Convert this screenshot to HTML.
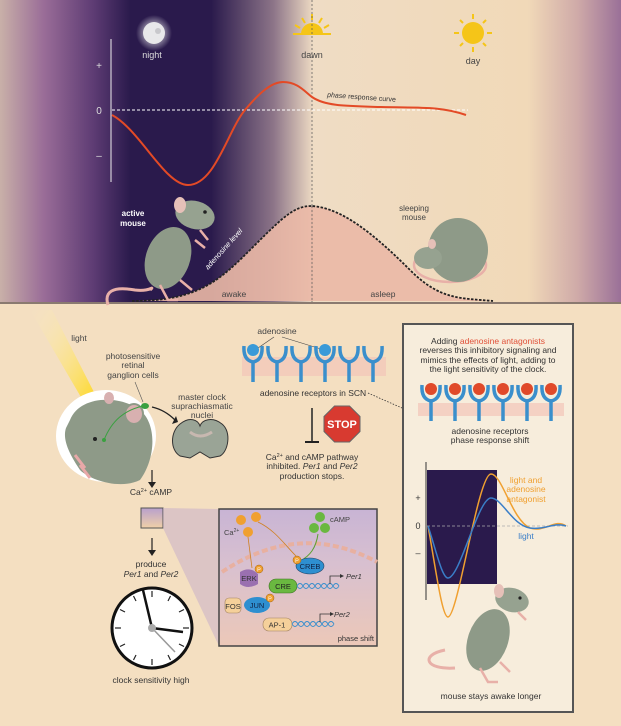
<!DOCTYPE html>
<html><head><meta charset="utf-8"><style>
body{margin:0;padding:0;background:#f4dfc1}
svg{display:block}
text{font-family:"Liberation Sans",sans-serif}
</style></head><body>
<svg width="621" height="726" viewBox="0 0 621 726" xmlns="http://www.w3.org/2000/svg">
<defs>
<linearGradient id="sky" x1="0" x2="1" y1="0" y2="0">
<stop offset="0" stop-color="#c9b0a8"/>
<stop offset="0.07" stop-color="#9a6d98"/>
<stop offset="0.15" stop-color="#5e3c74"/>
<stop offset="0.21" stop-color="#2a1a4c"/>
<stop offset="0.34" stop-color="#2a1a4c"/>
<stop offset="0.44" stop-color="#8c7488"/>
<stop offset="0.505" stop-color="#efdcc4"/>
<stop offset="0.85" stop-color="#f1d9b8"/>
<stop offset="0.93" stop-color="#cfaaa8"/>
<stop offset="1" stop-color="#9a7098"/>
</linearGradient>
<linearGradient id="inset" x1="0" x2="0" y1="0" y2="1">
<stop offset="0" stop-color="#c8b4d4"/><stop offset="0.4" stop-color="#d8c0d0"/><stop offset="1" stop-color="#ecc8b8"/>
</linearGradient>
<linearGradient id="beam" x1="0" x2="1" y1="0" y2="1">
<stop offset="0" stop-color="#fff6c8" stop-opacity="0"/><stop offset="1" stop-color="#ffd400"/>
</linearGradient>
<linearGradient id="sq" x1="0" x2="0" y1="0" y2="1"><stop offset="0" stop-color="#b8a0cc"/><stop offset="1" stop-color="#f0d0a8"/></linearGradient>
<radialGradient id="glow"><stop offset="0.5" stop-color="#fff" stop-opacity="0.5"/><stop offset="1" stop-color="#fff" stop-opacity="0"/></radialGradient>
<g id="rec"><path d="M-9,-12 Q-10,2 0,4 Q10,2 9,-12" fill="none" stroke="#3a8fcc" stroke-width="3.5"/><line x1="0" y1="4" x2="0" y2="24" stroke="#3a8fcc" stroke-width="3.5"/></g>
</defs>
<!-- top background -->
<rect x="0" y="0" width="621" height="302" fill="url(#sky)"/>
<rect x="0" y="302" width="621" height="2" fill="#8a7a70"/>
<rect x="0" y="304" width="621" height="422" fill="#f4dfc1"/>
<!-- moon & suns -->
<circle cx="154" cy="33" r="18" fill="url(#glow)"/>
<circle cx="154" cy="33" r="11" fill="#e8e8ea"/>
<circle cx="158" cy="31" r="3" fill="#c8c8cc"/>
<text x="152" y="58" font-size="9" fill="#ddd" text-anchor="middle">night</text>
<g stroke="#f5c518" stroke-width="2">
<line x1="312" y1="14" x2="312" y2="20"/><line x1="302" y1="18" x2="305" y2="23"/><line x1="322" y1="18" x2="319" y2="23"/><line x1="295" y1="25" x2="300" y2="28"/><line x1="329" y1="25" x2="324" y2="28"/><line x1="293" y1="34" x2="331" y2="34"/>
</g>
<path d="M301,34 A11,11 0 0 1 323,34 Z" fill="#f5c518"/>
<text x="312" y="58" font-size="9" fill="#444" text-anchor="middle">dawn</text>
<g stroke="#f5c518" stroke-width="2">
<line x1="473" y1="14" x2="473" y2="19"/><line x1="473" y1="47" x2="473" y2="52"/><line x1="454" y1="33" x2="459" y2="33"/><line x1="487" y1="33" x2="492" y2="33"/>
<line x1="460" y1="20" x2="463" y2="23"/><line x1="486" y1="20" x2="483" y2="23"/><line x1="460" y1="46" x2="463" y2="43"/><line x1="486" y1="46" x2="483" y2="43"/>
</g>
<circle cx="473" cy="33" r="11" fill="#f5c518"/>
<text x="473" y="64" font-size="9" fill="#444" text-anchor="middle">day</text>
<!-- axis -->
<line x1="111" y1="39" x2="111" y2="182" stroke="#eee" stroke-width="1"/>
<text x="99" y="69" font-size="10" fill="#ddd" text-anchor="middle">+</text>
<text x="99" y="114" font-size="10" fill="#ddd" text-anchor="middle">0</text>
<text x="99" y="159" font-size="10" fill="#ddd" text-anchor="middle">–</text>
<line x1="112" y1="110" x2="468" y2="110" stroke="#fff" stroke-width="1" stroke-dasharray="3,2"/>
<line x1="312" y1="0" x2="312" y2="302" stroke="#555" stroke-width="0.7" stroke-dasharray="2,2"/>
<!-- adenosine curve -->
<path d="M132,301 C200,301 220,280 255,245 C285,215 295,206 312,206 C340,208 370,230 410,270 C440,300 460,298 493,301 Z" fill="#eab8a6" opacity="0.9"/>
<path d="M132,301 C200,301 220,280 255,245 C285,215 295,206 312,206 C340,208 370,230 410,270 C440,300 460,298 493,301" fill="none" stroke="#222" stroke-width="1.8" stroke-dasharray="2.5,1.5"/>
<line x1="312" y1="206" x2="312" y2="302" stroke="#555" stroke-width="0.7" stroke-dasharray="2,2"/>
<text x="234" y="297" font-size="8.5" fill="#444" text-anchor="middle">awake</text>
<text x="383" y="297" font-size="8.5" fill="#444" text-anchor="middle">asleep</text>
<text x="0" y="0" font-size="7.5" fill="#fff" font-style="italic" transform="translate(208,270) rotate(-48)">adenosine level</text>
<!-- red curve -->
<path d="M112,115 C140,130 165,185 188,185 C215,185 228,130 245,110 C260,92 272,82 283,82 C298,82 305,92 312,97 C325,106 345,106 380,107 C420,108 440,106 466,115" fill="none" stroke="#e34a26" stroke-width="2"/>
<text x="0" y="0" font-size="7" fill="#333" transform="translate(327,97) rotate(4)"><tspan font-style="italic">phase</tspan> response curve</text>
<!-- active mouse -->
<text x="133" y="216" font-size="8" font-weight="bold" fill="#fff" text-anchor="middle">active</text>
<text x="133" y="226" font-size="8" font-weight="bold" fill="#fff" text-anchor="middle">mouse</text>
<path d="M108,305 C104,292 112,286 135,290 C150,292 155,285 150,290" fill="none" stroke="#e8b0a8" stroke-width="3"/>
<g transform="translate(0,0)">
<ellipse cx="168" cy="258" rx="22" ry="32" fill="#8e9a88" transform="rotate(20 168 258)"/>
<ellipse cx="195" cy="215" rx="20" ry="14" fill="#96a290" transform="rotate(15 195 215)"/>
<ellipse cx="180" cy="205" rx="6" ry="8" fill="#e6c0b8"/>
<circle cx="205" cy="212" r="1.8" fill="#222"/>
<path d="M160,285 L168,300 L178,300 M180,280 L192,290" stroke="#e8b0a8" stroke-width="2.5" fill="none"/>
<path d="M200,230 L208,240 M195,240 L205,248" stroke="#e8b0a8" stroke-width="2.5"/>
</g>
<!-- sleeping mouse -->
<text x="414" y="211" font-size="8" fill="#444" text-anchor="middle">sleeping</text>
<text x="414" y="220" font-size="8" fill="#444" text-anchor="middle">mouse</text>
<ellipse cx="450" cy="265" rx="36" ry="17" fill="none" stroke="#e8b0a8" stroke-width="2.5"/>
<ellipse cx="458" cy="250" rx="30" ry="32" fill="#8e9a88"/>
<ellipse cx="428" cy="258" rx="14" ry="11" fill="#96a290"/>
<ellipse cx="432" cy="244" rx="4" ry="5" fill="#e6c0b8"/>
<!-- ===== bottom left ===== -->
<polygon points="30,310 52,310 100,404 88,415 85,404" fill="url(#beam)"/>
<polygon points="80,398 100,392 94,418" fill="#ffd400"/>
<text x="79" y="341" font-size="8.5" fill="#444" text-anchor="middle">light</text>
<text x="133" y="359" font-size="8.5" fill="#444" text-anchor="middle">photosensitive</text>
<text x="133" y="368" font-size="8.5" fill="#444" text-anchor="middle">retinal</text>
<text x="133" y="378" font-size="8.5" fill="#444" text-anchor="middle">ganglion cells</text>
<line x1="135" y1="382" x2="143" y2="402" stroke="#555" stroke-width="0.6"/>
<ellipse cx="106" cy="436" rx="50" ry="46" fill="#fff"/>
<path d="M70,420 C80,395 120,395 140,410 C158,425 155,460 140,480 C120,490 90,480 80,470 C70,455 62,440 66,428 Z" fill="#8e9a88"/>
<ellipse cx="134" cy="414" rx="9" ry="10" fill="#d8b0b0" stroke="#8e9a88" stroke-width="2"/>
<ellipse cx="109" cy="398" rx="5" ry="6" fill="#d8b0b0"/>
<circle cx="95" cy="439" r="2" fill="#222"/>
<path d="M80,465 L90,478 M75,455 L85,468" stroke="#e8a8a8" stroke-width="3"/>
<path d="M104,440 C112,420 125,410 143,406" fill="none" stroke="#3aa040" stroke-width="1"/>
<circle cx="104" cy="440" r="2" fill="#3aa040"/>
<ellipse cx="145" cy="406" rx="4" ry="3" fill="#3aa040"/>
<text x="202" y="400" font-size="8.5" fill="#444" text-anchor="middle">master clock</text>
<text x="202" y="409" font-size="8.5" fill="#444" text-anchor="middle">suprachiasmatic</text>
<text x="202" y="418" font-size="8.5" fill="#444" text-anchor="middle">nuclei</text>
<path d="M152,407 Q165,410 175,420" fill="none" stroke="#222" stroke-width="1.3"/>
<polygon points="172,424 178,422 176,416" fill="#222"/>
<path d="M180,424 C190,416 198,420 200,426 C202,420 212,416 222,424 C232,432 228,452 220,456 L210,458 L200,452 L190,458 L180,456 C170,450 170,432 180,424 Z" fill="#9aa496" stroke="#333" stroke-width="1"/>
<path d="M190,432 Q200,440 212,432" fill="none" stroke="#c8b8b0" stroke-width="3"/>
<line x1="152" y1="470" x2="152" y2="484" stroke="#222" stroke-width="1.2"/><polygon points="148,482 156,482 152,488" fill="#222"/>
<text x="151" y="495" font-size="8.5" fill="#333" text-anchor="middle">Ca<tspan font-size="5.5" dy="-3">2+</tspan><tspan dy="3"> cAMP</tspan></text>
<rect x="141" y="508" width="22" height="20" fill="url(#sq)" stroke="#555" stroke-width="1"/>
<polygon points="163,508 219,509 219,646 163,528" fill="#c8aec8" opacity="0.55"/>
<line x1="152" y1="538" x2="152" y2="552" stroke="#222" stroke-width="1.2"/><polygon points="148,550 156,550 152,556" fill="#222"/>
<text x="151" y="567" font-size="8.5" fill="#333" text-anchor="middle">produce</text>
<text x="151" y="577" font-size="8.5" fill="#333" text-anchor="middle" font-style="italic">Per1 <tspan font-style="normal">and</tspan> Per2</text>
<!-- clock -->
<circle cx="152" cy="628" r="40" fill="#fff" stroke="#111" stroke-width="3"/>
<g stroke="#222" stroke-width="1.2">
<line x1="152" y1="591" x2="152" y2="597"/><line x1="152" y1="659" x2="152" y2="665"/><line x1="115" y1="628" x2="121" y2="628"/><line x1="183" y1="628" x2="189" y2="628"/>
<line x1="170.5" y1="596" x2="168" y2="601"/><line x1="133.5" y1="596" x2="136" y2="601"/><line x1="184" y1="609.5" x2="179" y2="612"/><line x1="120" y1="609.5" x2="125" y2="612"/>
<line x1="184" y1="646.5" x2="179" y2="644"/><line x1="120" y1="646.5" x2="125" y2="644"/><line x1="170.5" y1="660" x2="168" y2="655"/><line x1="133.5" y1="660" x2="136" y2="655"/>
</g>
<line x1="152" y1="628" x2="143" y2="590" stroke="#111" stroke-width="2.5"/>
<line x1="152" y1="628" x2="183" y2="632" stroke="#111" stroke-width="2.5"/>
<line x1="152" y1="628" x2="175" y2="652" stroke="#999" stroke-width="1.5"/>
<circle cx="152" cy="628" r="4" fill="#aaa"/>
<text x="151" y="683" font-size="8.5" fill="#333" text-anchor="middle">clock sensitivity high</text>
<!-- inset -->
<rect x="219" y="509" width="158" height="137" fill="url(#inset)" stroke="#444" stroke-width="1.5"/>
<path d="M222,572 Q300,520 377,562" fill="none" stroke="#e8b0a0" stroke-width="4" stroke-dasharray="6,3"/>
<circle cx="241" cy="520" r="5" fill="#f0a030"/><circle cx="256" cy="517" r="5" fill="#f0a030"/><circle cx="248" cy="532" r="5" fill="#f0a030"/>
<text x="224" y="535" font-size="7.5" fill="#444">Ca<tspan font-size="5" dy="-3">2+</tspan></text>
<path d="M248,537 L252,568" stroke="#d08020" stroke-width="0.8" fill="none"/>
<path d="M258,522 C275,530 285,545 296,556" stroke="#d08020" stroke-width="0.8" fill="none"/>
<circle cx="320" cy="517" r="5" fill="#6ab840"/><circle cx="314" cy="528" r="5" fill="#6ab840"/><circle cx="325" cy="528" r="5" fill="#6ab840"/>
<text x="330" y="522" font-size="7.5" fill="#444">cAMP</text>
<path d="M318,534 C316,548 310,556 300,561" stroke="#5aa030" stroke-width="1" fill="none"/>
<ellipse cx="310" cy="566" rx="14" ry="8" fill="#2e8fd0" stroke="#246" stroke-width="0.6"/>
<text x="310" y="569" font-size="7.5" fill="#124" text-anchor="middle">CREB</text>
<circle cx="297" cy="560" r="4" fill="#f0a030" stroke="#a06010" stroke-width="0.5"/><text x="297" y="562.5" font-size="5.5" fill="#fff" text-anchor="middle">P</text>
<path d="M240,572 Q250,566 258,574 L258,584 Q248,590 240,584 Z" fill="#9a70b0"/>
<text x="249" y="581" font-size="7.5" fill="#333" text-anchor="middle">ERK</text>
<circle cx="259" cy="569" r="4" fill="#f0a030" stroke="#a06010" stroke-width="0.5"/><text x="259" y="571.5" font-size="5.5" fill="#fff" text-anchor="middle">P</text>
<rect x="269" y="579" width="28" height="14" rx="7" fill="#6ab840" stroke="#3a7020" stroke-width="0.6"/>
<text x="283" y="589" font-size="7.5" fill="#222" text-anchor="middle">CRE</text>
<path d="M297,586 q3,-5 6,0 t6,0 t6,0 t6,0 t6,0 t6,0 t6,0 M297,586 q3,5 6,0 t6,0 t6,0 t6,0 t6,0 t6,0 t6,0" fill="none" stroke="#3a8fcc" stroke-width="0.9"/>
<path d="M330,584 L330,576 L340,576" fill="none" stroke="#333" stroke-width="0.8"/><polygon points="340,574 344,576 340,578" fill="#333"/>
<text x="346" y="579" font-size="7.5" fill="#333" font-style="italic">Per1</text>
<rect x="225" y="598" width="16" height="15" rx="4" fill="#f5d09a" stroke="#a08060" stroke-width="0.6"/>
<text x="233" y="609" font-size="7.5" fill="#333" text-anchor="middle">FOS</text>
<ellipse cx="257" cy="605" rx="13" ry="8" fill="#2e8fd0"/>
<text x="257" y="608" font-size="7.5" fill="#124" text-anchor="middle">JUN</text>
<circle cx="270" cy="598" r="4" fill="#f0a030" stroke="#a06010" stroke-width="0.5"/><text x="270" y="600.5" font-size="5.5" fill="#fff" text-anchor="middle">P</text>
<rect x="263" y="618" width="29" height="13" rx="6" fill="#f5d09a" stroke="#a08060" stroke-width="0.6"/>
<text x="277" y="627.5" font-size="7.5" fill="#333" text-anchor="middle">AP-1</text>
<path d="M292,624 q3,-5 6,0 t6,0 t6,0 t6,0 t6,0 t6,0 t6,0 M292,624 q3,5 6,0 t6,0 t6,0 t6,0 t6,0 t6,0 t6,0" fill="none" stroke="#3a8fcc" stroke-width="0.9"/>
<path d="M320,622 L320,614 L330,614" fill="none" stroke="#333" stroke-width="0.8"/><polygon points="330,612 334,614 330,616" fill="#333"/>
<text x="334" y="617" font-size="7.5" fill="#333" font-style="italic">Per2</text>
<text x="374" y="641" font-size="7.5" fill="#333" text-anchor="end">phase shift</text>
<!-- adenosine receptors middle -->
<text x="277" y="334" font-size="8.5" fill="#444" text-anchor="middle">adenosine</text>
<line x1="274" y1="337" x2="258" y2="348" stroke="#444" stroke-width="0.6"/><line x1="282" y1="337" x2="321" y2="349" stroke="#444" stroke-width="0.6"/>
<rect x="242" y="357" width="144" height="19" fill="#f2c4b8" opacity="0.7"/>
<g transform="translate(0,358)"><use href="#rec" x="253"/><use href="#rec" x="277"/><use href="#rec" x="301"/><use href="#rec" x="325"/><use href="#rec" x="349"/><use href="#rec" x="373"/></g>
<circle cx="253" cy="350" r="6" fill="#3a9ad8"/><circle cx="325" cy="350" r="6" fill="#3a9ad8"/>
<text x="313" y="396" font-size="8.5" fill="#333" text-anchor="middle">adenosine receptors in SCN</text>
<line x1="368" y1="393" x2="402" y2="408" stroke="#333" stroke-width="0.8" stroke-dasharray="1.5,1.5"/>
<line x1="312" y1="408" x2="312" y2="442" stroke="#222" stroke-width="1.5"/><line x1="305" y1="442" x2="319" y2="442" stroke="#222" stroke-width="2"/>
<polygon points="334.5,406 349.5,406 360,416.5 360,431.5 349.5,442 334.5,442 324,431.5 324,416.5" fill="#d83a30" stroke="#666" stroke-width="1"/>
<text x="342" y="428" font-size="11" font-weight="bold" fill="#fff" text-anchor="middle">STOP</text>
<text x="312" y="460" font-size="8.5" fill="#333" text-anchor="middle">Ca<tspan font-size="5.5" dy="-3">2+</tspan><tspan dy="3"> and cAMP pathway</tspan></text>
<text x="312" y="469" font-size="8.5" fill="#333" text-anchor="middle">inhibited. <tspan font-style="italic">Per1</tspan> and <tspan font-style="italic">Per2</tspan></text>
<text x="312" y="479" font-size="8.5" fill="#333" text-anchor="middle">production stops.</text>
<!-- right box -->
<rect x="403" y="324" width="170" height="388" fill="#f7eddc" stroke="#555" stroke-width="2"/>
<text x="488" y="344" font-size="8.5" fill="#333" text-anchor="middle">Adding <tspan fill="#e05038">adenosine antagonists</tspan></text>
<text x="488" y="353" font-size="8.5" fill="#333" text-anchor="middle">reverses this inhibitory signaling and</text>
<text x="488" y="363" font-size="8.5" fill="#333" text-anchor="middle">mimics the effects of light, adding to</text>
<text x="488" y="372" font-size="8.5" fill="#333" text-anchor="middle">the light sensitivity of the clock.</text>
<rect x="418" y="403" width="146" height="13" fill="#f2c4b8" opacity="0.7"/>
<g transform="translate(0,397)"><use href="#rec" x="431"/><use href="#rec" x="455"/><use href="#rec" x="479"/><use href="#rec" x="503"/><use href="#rec" x="527"/><use href="#rec" x="551"/></g>
<g fill="#e04a2a"><circle cx="431" cy="389" r="6"/><circle cx="455" cy="389" r="6"/><circle cx="479" cy="389" r="6"/><circle cx="503" cy="389" r="6"/><circle cx="527" cy="389" r="6"/><circle cx="551" cy="389" r="6"/></g>
<text x="490" y="434" font-size="8.5" fill="#333" text-anchor="middle">adenosine receptors</text>
<text x="490" y="443" font-size="8.5" fill="#333" text-anchor="middle">phase response shift</text>
<rect x="427" y="470" width="70" height="114" fill="#2a1a4c"/>
<line x1="426" y1="462" x2="426" y2="600" stroke="#333" stroke-width="1"/>
<text x="418" y="501" font-size="9" fill="#333" text-anchor="middle">+</text>
<text x="418" y="529" font-size="9" fill="#333" text-anchor="middle">0</text>
<text x="418" y="556" font-size="9" fill="#333" text-anchor="middle">–</text>
<line x1="427" y1="526" x2="568" y2="526" stroke="#aaa" stroke-width="0.8" stroke-dasharray="3,2"/>
<path d="M428,526 C436,570 442,617 448,617 C458,617 478,474 491,474 C502,474 512,520 530,528 C545,533 555,518 566,526" fill="none" stroke="#f0a030" stroke-width="1.5"/>
<path d="M428,526 C436,550 442,578 448,578 C460,578 478,498 491,498 C502,498 512,525 530,528 C545,530 555,522 566,526" fill="none" stroke="#3a7ec8" stroke-width="1.5"/>
<text x="526" y="483" font-size="8.5" fill="#f0a030" text-anchor="middle">light and</text>
<text x="526" y="492" font-size="8.5" fill="#f0a030" text-anchor="middle">adenosine</text>
<text x="526" y="502" font-size="8.5" fill="#f0a030" text-anchor="middle">antagonist</text>
<text x="526" y="539" font-size="8.5" fill="#3a7ec8" text-anchor="middle">light</text>
<!-- standing mouse -->
<path d="M455,668 C425,670 420,655 445,650" fill="none" stroke="#e8b0a8" stroke-width="3"/>
<ellipse cx="488" cy="640" rx="20" ry="32" fill="#8e9a88" transform="rotate(20 488 640)"/>
<ellipse cx="512" cy="600" rx="17" ry="12" fill="#96a290" transform="rotate(15 512 600)"/>
<ellipse cx="499" cy="591" rx="5" ry="7" fill="#e6c0b8"/>
<circle cx="520" cy="598" r="1.6" fill="#222"/>
<path d="M480,668 L488,682 L498,682 M500,662 L510,672" stroke="#e8b0a8" stroke-width="2.5" fill="none"/>
<path d="M518,612 L526,620" stroke="#e8b0a8" stroke-width="2.5"/>
<text x="491" y="699" font-size="8.5" fill="#333" text-anchor="middle">mouse stays awake longer</text>
</svg>
</body></html>
